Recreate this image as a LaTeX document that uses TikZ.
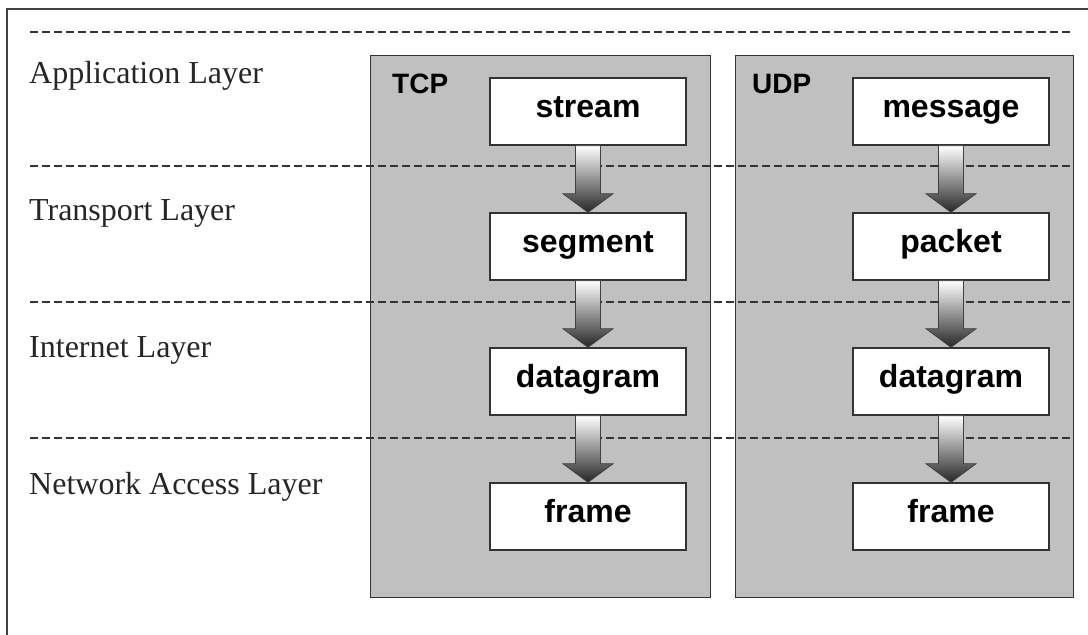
\documentclass[tikz,border=0pt]{standalone}
\usepackage{fontspec}
\setmainfont{Liberation Serif}
\newfontfamily\boxfont{Liberation Sans}
\usetikzlibrary{calc}
\definecolor{protogray}{RGB}{192,192,192}
\definecolor{linegray}{RGB}{51,51,51}
\tikzset{
  layerlbl/.style={anchor=base west, inner sep=0pt, text=black!85, font=\fontsize{32}{32}\selectfont},
  protobox/.style={draw=linegray, line width=1.4pt, fill=protogray, anchor=north west, inner sep=0pt},
  protolbl/.style={anchor=base west, inner sep=0pt, font=\boxfont\bfseries\fontsize{28}{28}\selectfont},
  pdu/.style={draw=linegray, line width=1.4pt, fill=white, minimum width=196pt, minimum height=67pt, inner sep=0pt, text height=18pt, text depth=7pt, font=\boxfont\bfseries\fontsize{32}{32}\selectfont},
  sepline/.style={draw=black!80, line width=1.3pt, dash pattern=on 8pt off 4pt},
  pduarrowstyle/.style={top color=white, bottom color=black!85, draw=black!75, line width=0.8pt}
}
\newcommand\pduarrow[2]{%
  \shade[pduarrowstyle] ($(#1.south)+(-12.5,0)$) -- ($(#1.south)+(12.5,0)$) -- ($(#1.south)+(12.5,48)$) -- ($(#1.south)+(25,48)$) -- (#2.north) -- ($(#1.south)+(-25,48)$) -- ($(#1.south)+(-12.5,48)$) -- cycle;}
\begin{document}
\begin{tikzpicture}[x=1pt,y=-1pt]
\useasboundingbox (0,0) rectangle (1088,635);
\fill[white] (0,0) rectangle (1088,635);
% outer frame (cropped at right and bottom)
\draw[line width=2pt, draw=black!75] (7,635) -- (7,9) -- (1088,9);
% protocol boxes
\node[protobox, minimum width=340pt, minimum height=542pt] (tcp) at (370,55) {};
\node[protobox, minimum width=338pt, minimum height=542pt] (udp) at (735,55) {};
\node[protolbl] (tcplbl) at (392,93) {TCP};
\node[protolbl] (udplbl) at (752,93) {UDP};
% layer separators
\draw[sepline] (30,32) -- (1070,32);
\draw[sepline] (30,166) -- (1070,166);
\draw[sepline] (30,302) -- (1070,302);
\draw[sepline] (30,438) -- (1070,438);
% layer labels
\node[layerlbl] (app) at (29,83) {Application Layer};
\node[layerlbl] (trn) at (29,220) {Transport Layer};
\node[layerlbl] (inet) at (29,357) {Internet Layer};
\node[layerlbl] (nal) at (29,494) {Network Access Layer};
% PDU boxes
\node[pdu] (t1) at (588,111.5) {stream};
\node[pdu] (t2) at (588,246.5) {segment};
\node[pdu] (t3) at (588,381.5) {datagram};
\node[pdu] (t4) at (588,516.5) {frame};
\node[pdu] (u1) at (951,111.5) {message};
\node[pdu] (u2) at (951,246.5) {packet};
\node[pdu] (u3) at (951,381.5) {datagram};
\node[pdu] (u4) at (951,516.5) {frame};
% arrows
\pduarrow{t1}{t2}
\pduarrow{t2}{t3}
\pduarrow{t3}{t4}
\pduarrow{u1}{u2}
\pduarrow{u2}{u3}
\pduarrow{u3}{u4}
\end{tikzpicture}
\end{document}
